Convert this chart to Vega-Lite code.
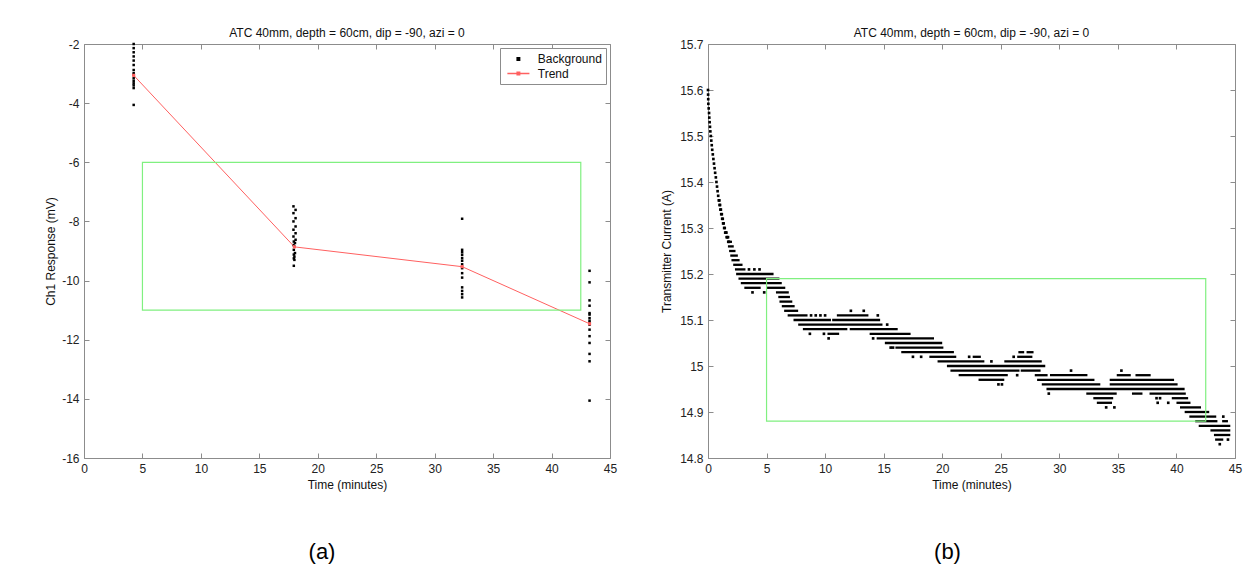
{
  "$schema": "https://vega.github.io/schema/vega-lite/v6.json",
  "background": "white",
  "padding": {"left": 44, "top": 26, "right": 18, "bottom": 4},
  "bounds": "flush",
  "spacing": 98,
  "resolve": {"scale": {"color": "independent", "shape": "independent"}, "legend": {"color": "independent", "shape": "independent"}},
  "config": {
    "font": "Liberation Sans",
    "view": {"stroke": "#8c8c8c", "strokeWidth": 1},
    "axis": {"domain": false, "grid": false, "ticks": true, "tickColor": "#8c8c8c", "tickSize": -5, "tickWidth": 1, "labelFont": "Liberation Sans", "labelFontSize": 12, "labelColor": "#222222", "labelPadding": 10, "labelFlush": false, "labelOverlap": false, "titleFont": "Liberation Sans", "titleFontSize": 12, "titleFontWeight": "normal", "titleColor": "#111111", "zindex": 1},
    "title": {"font": "Liberation Sans", "fontSize": 12, "fontWeight": "normal", "color": "#111111", "offset": -2, "anchor": "middle", "frame": "group"},
    "legend": {"labelFont": "Liberation Sans", "labelFontSize": 12, "labelColor": "#111111", "padding": 4, "symbolOffset": 7.4, "labelOffset": 12.4, "symbolSize": 150, "rowPadding": 1.5, "strokeColor": "#8c8c8c", "fillColor": "white", "cornerRadius": 0, "offset": 4}
  },
  "datasets": {
    "bg": [
      {"t": 4.25, "v": -2.0, "series": "Background"}, {"t": 4.25, "v": -2.14, "series": "Background"}, {"t": 4.25, "v": -2.28, "series": "Background"}, {"t": 4.25, "v": -2.42, "series": "Background"}, {"t": 4.25, "v": -2.56, "series": "Background"}, {"t": 4.25, "v": -2.71, "series": "Background"}, {"t": 4.25, "v": -2.88, "series": "Background"}, {"t": 4.25, "v": -2.99, "series": "Background"}, {"t": 4.25, "v": -3.04, "series": "Background"}, {"t": 4.25, "v": -3.16, "series": "Background"}, {"t": 4.25, "v": -3.25, "series": "Background"}, {"t": 4.25, "v": -3.33, "series": "Background"}, {"t": 4.25, "v": -3.4, "series": "Background"}, {"t": 4.25, "v": -3.49, "series": "Background"}, {"t": 4.25, "v": -4.06, "series": "Background"},
      {"t": 17.92, "v": -7.49, "series": "Background"}, {"t": 18.1, "v": -7.61, "series": "Background"}, {"t": 17.92, "v": -7.72, "series": "Background"}, {"t": 18.1, "v": -7.89, "series": "Background"}, {"t": 17.92, "v": -8.0, "series": "Background"}, {"t": 18.1, "v": -8.17, "series": "Background"}, {"t": 17.92, "v": -8.28, "series": "Background"}, {"t": 18.1, "v": -8.4, "series": "Background"}, {"t": 17.92, "v": -8.51, "series": "Background"}, {"t": 18.1, "v": -8.62, "series": "Background"}, {"t": 17.95, "v": -8.68, "series": "Background"}, {"t": 18.05, "v": -8.73, "series": "Background"}, {"t": 17.92, "v": -8.8, "series": "Background"}, {"t": 18.0, "v": -8.85, "series": "Background"}, {"t": 17.95, "v": -8.96, "series": "Background"}, {"t": 18.05, "v": -9.07, "series": "Background"}, {"t": 17.95, "v": -9.12, "series": "Background"}, {"t": 18.0, "v": -9.19, "series": "Background"}, {"t": 17.95, "v": -9.25, "series": "Background"}, {"t": 18.0, "v": -9.3, "series": "Background"}, {"t": 17.95, "v": -9.5, "series": "Background"},
      {"t": 32.35, "v": -7.91, "series": "Background"}, {"t": 32.35, "v": -8.96, "series": "Background"}, {"t": 32.35, "v": -9.04, "series": "Background"}, {"t": 32.35, "v": -9.13, "series": "Background"}, {"t": 32.35, "v": -9.24, "series": "Background"}, {"t": 32.35, "v": -9.33, "series": "Background"}, {"t": 32.35, "v": -9.45, "series": "Background"}, {"t": 32.35, "v": -9.58, "series": "Background"}, {"t": 32.35, "v": -9.75, "series": "Background"}, {"t": 32.35, "v": -9.9, "series": "Background"}, {"t": 32.35, "v": -10.23, "series": "Background"}, {"t": 32.35, "v": -10.35, "series": "Background"}, {"t": 32.35, "v": -10.46, "series": "Background"}, {"t": 32.35, "v": -10.57, "series": "Background"},
      {"t": 43.25, "v": -9.67, "series": "Background"}, {"t": 43.25, "v": -10.06, "series": "Background"}, {"t": 43.25, "v": -10.67, "series": "Background"}, {"t": 43.25, "v": -10.85, "series": "Background"}, {"t": 43.25, "v": -11.1, "series": "Background"}, {"t": 43.25, "v": -11.15, "series": "Background"}, {"t": 43.25, "v": -11.27, "series": "Background"}, {"t": 43.25, "v": -11.36, "series": "Background"}, {"t": 43.25, "v": -11.43, "series": "Background"}, {"t": 43.25, "v": -11.49, "series": "Background"}, {"t": 43.25, "v": -11.66, "series": "Background"}, {"t": 43.25, "v": -11.88, "series": "Background"}, {"t": 43.25, "v": -12.11, "series": "Background"}, {"t": 43.25, "v": -12.48, "series": "Background"}, {"t": 43.25, "v": -12.73, "series": "Background"}, {"t": 43.25, "v": -14.06, "series": "Background"}
    ],
    "trend": [
      {"t": 4.25, "v": -3.06, "series": "Trend"}, {"t": 18.0, "v": -8.86, "series": "Trend"}, {"t": 32.35, "v": -9.53, "series": "Trend"}, {"t": 43.25, "v": -11.46, "series": "Trend"}
    ],
    "runs": [
      {"v": 15.27, "t1": 1.85, "t2": 1.95}, {"v": 15.26, "t1": 1.8, "t2": 2.1}, {"v": 15.25, "t1": 1.9, "t2": 2.25}, {"v": 15.24, "t1": 2.0, "t2": 2.45}, {"v": 15.23, "t1": 2.1, "t2": 2.6}, {"v": 15.22, "t1": 2.25, "t2": 2.85}, {"v": 15.21, "t1": 2.4, "t2": 3.1},
      {"v": 15.2, "t1": 2.5, "t2": 5.5}, {"v": 15.19, "t1": 2.7, "t2": 6.0}, {"v": 15.18, "t1": 2.9, "t2": 6.2}, {"v": 15.17, "t1": 3.2, "t2": 4.4}, {"v": 15.17, "t1": 5.1, "t2": 6.5}, {"v": 15.16, "t1": 5.9, "t2": 6.8}, {"v": 15.15, "t1": 6.1, "t2": 6.9}, {"v": 15.14, "t1": 6.2, "t2": 7.1}, {"v": 15.13, "t1": 6.4, "t2": 7.3}, {"v": 15.12, "t1": 6.6, "t2": 7.6},
      {"v": 15.11, "t1": 6.9, "t2": 8.4}, {"v": 15.11, "t1": 11.1, "t2": 13.6}, {"v": 15.1, "t1": 7.4, "t2": 10.4}, {"v": 15.1, "t1": 10.7, "t2": 14.6}, {"v": 15.09, "t1": 7.8, "t2": 14.8}, {"v": 15.08, "t1": 8.2, "t2": 11.8}, {"v": 15.08, "t1": 12.2, "t2": 16.1}, {"v": 15.07, "t1": 10.3, "t2": 11.1}, {"v": 15.07, "t1": 13.9, "t2": 17.2},
      {"v": 15.06, "t1": 14.5, "t2": 19.2}, {"v": 15.05, "t1": 15.2, "t2": 19.9}, {"v": 15.04, "t1": 16.1, "t2": 20.0}, {"v": 15.03, "t1": 16.6, "t2": 20.9}, {"v": 15.03, "t1": 26.6, "t2": 26.9}, {"v": 15.03, "t1": 27.3, "t2": 27.7},
      {"v": 15.02, "t1": 19.0, "t2": 21.1}, {"v": 15.02, "t1": 22.7, "t2": 23.2}, {"v": 15.02, "t1": 26.5, "t2": 27.6}, {"v": 15.01, "t1": 19.7, "t2": 23.5}, {"v": 15.01, "t1": 25.4, "t2": 28.4}, {"v": 15.0, "t1": 20.5, "t2": 28.7},
      {"v": 14.99, "t1": 20.8, "t2": 26.5}, {"v": 14.99, "t1": 26.8, "t2": 28.3}, {"v": 14.98, "t1": 21.5, "t2": 25.5}, {"v": 14.98, "t1": 28.0, "t2": 28.9}, {"v": 14.98, "t1": 29.3, "t2": 32.3}, {"v": 14.98, "t1": 35.0, "t2": 36.0}, {"v": 14.98, "t1": 36.6, "t2": 37.7},
      {"v": 14.97, "t1": 23.2, "t2": 25.2}, {"v": 14.97, "t1": 28.2, "t2": 32.9}, {"v": 14.97, "t1": 34.4, "t2": 39.7}, {"v": 14.96, "t1": 28.6, "t2": 33.4}, {"v": 14.96, "t1": 34.4, "t2": 40.0}, {"v": 14.95, "t1": 29.0, "t2": 40.6},
      {"v": 14.94, "t1": 32.4, "t2": 34.8}, {"v": 14.94, "t1": 36.3, "t2": 37.0}, {"v": 14.94, "t1": 37.8, "t2": 40.7}, {"v": 14.93, "t1": 33.0, "t2": 34.5}, {"v": 14.93, "t1": 39.7, "t2": 40.9}, {"v": 14.92, "t1": 33.3, "t2": 34.4}, {"v": 14.92, "t1": 40.1, "t2": 41.1},
      {"v": 14.91, "t1": 40.4, "t2": 42.0}, {"v": 14.9, "t1": 40.8, "t2": 42.7}, {"v": 14.89, "t1": 41.2, "t2": 43.3}, {"v": 14.88, "t1": 41.7, "t2": 43.4}, {"v": 14.88, "t1": 44.0, "t2": 44.3}, {"v": 14.87, "t1": 42.0, "t2": 44.5}, {"v": 14.86, "t1": 43.0, "t2": 44.5}, {"v": 14.85, "t1": 43.3, "t2": 44.5}, {"v": 14.84, "t1": 43.4, "t2": 43.9}
    ],
    "dots": [
      {"t": 0.0, "v": 15.6}, {"t": 0.01, "v": 15.59}, {"t": 0.02, "v": 15.58}, {"t": 0.03, "v": 15.57}, {"t": 0.06, "v": 15.56}, {"t": 0.09, "v": 15.55}, {"t": 0.11, "v": 15.54}, {"t": 0.14, "v": 15.53}, {"t": 0.17, "v": 15.52}, {"t": 0.2, "v": 15.51}, {"t": 0.24, "v": 15.5}, {"t": 0.28, "v": 15.49}, {"t": 0.32, "v": 15.48}, {"t": 0.36, "v": 15.47}, {"t": 0.41, "v": 15.46}, {"t": 0.46, "v": 15.45}, {"t": 0.51, "v": 15.44}, {"t": 0.56, "v": 15.43}, {"t": 0.61, "v": 15.42}, {"t": 0.67, "v": 15.41}, {"t": 0.72, "v": 15.4}, {"t": 0.77, "v": 15.39}, {"t": 0.82, "v": 15.38}, {"t": 0.87, "v": 15.37}, {"t": 0.92, "v": 15.36}, {"t": 0.97, "v": 15.36}, {"t": 0.99, "v": 15.35}, {"t": 1.03, "v": 15.35}, {"t": 1.06, "v": 15.34}, {"t": 1.1, "v": 15.34}, {"t": 1.13, "v": 15.33}, {"t": 1.18, "v": 15.33}, {"t": 1.21, "v": 15.32}, {"t": 1.26, "v": 15.32}, {"t": 1.29, "v": 15.31}, {"t": 1.34, "v": 15.31}, {"t": 1.38, "v": 15.3}, {"t": 1.43, "v": 15.3}, {"t": 1.47, "v": 15.29}, {"t": 1.52, "v": 15.29}, {"t": 1.57, "v": 15.29}, {"t": 1.59, "v": 15.28}, {"t": 1.65, "v": 15.28}, {"t": 1.71, "v": 15.28}, {"t": 1.73, "v": 15.27}, {"t": 1.79, "v": 15.27},
      {"t": 3.5, "v": 15.21}, {"t": 3.96, "v": 15.21}, {"t": 4.4, "v": 15.21}, {"t": 3.8, "v": 15.16}, {"t": 4.8, "v": 15.16}, {"t": 12.2, "v": 15.12}, {"t": 13.3, "v": 15.12}, {"t": 8.8, "v": 15.11}, {"t": 9.2, "v": 15.11}, {"t": 9.6, "v": 15.11}, {"t": 10.0, "v": 15.11}, {"t": 14.5, "v": 15.11}, {"t": 15.3, "v": 15.09}, {"t": 8.7, "v": 15.07}, {"t": 9.9, "v": 15.07}, {"t": 10.3, "v": 15.06}, {"t": 14.1, "v": 15.06}, {"t": 15.6, "v": 15.04}, {"t": 15.8, "v": 15.04}, {"t": 17.5, "v": 15.02}, {"t": 18.2, "v": 15.02}, {"t": 22.3, "v": 15.02}, {"t": 26.1, "v": 15.02}, {"t": 24.2, "v": 15.01}, {"t": 26.4, "v": 14.98}, {"t": 31.0, "v": 14.99}, {"t": 35.3, "v": 14.99}, {"t": 24.8, "v": 14.96}, {"t": 25.1, "v": 14.96}, {"t": 29.1, "v": 14.94}, {"t": 38.3, "v": 14.93}, {"t": 38.6, "v": 14.93}, {"t": 38.4, "v": 14.92}, {"t": 39.3, "v": 14.92}, {"t": 34.0, "v": 14.91}, {"t": 34.7, "v": 14.91}, {"t": 44.0, "v": 14.89}, {"t": 44.4, "v": 14.84}, {"t": 43.7, "v": 14.83}
    ]
  },
  "hconcat": [
    {
      "width": 526,
      "height": 414,
      "title": {"text": "ATC 40mm, depth = 60cm, dip = -90, azi = 0"},
      "resolve": {"axis": {"x": "independent", "y": "independent"}},
      "layer": [
        {
          "data": {"name": "bg"},
          "mark": {"type": "point", "filled": true, "opacity": 1, "size": 156},
          "encoding": {
            "x": {"field": "t", "type": "quantitative", "scale": {"domain": [0, 45], "nice": false, "zero": false},
              "axis": {"orient": "bottom", "values": [0, 5, 10, 15, 20, 25, 30, 35, 40, 45], "labelExpr": "'' + datum.value", "title": "Time (minutes)", "titleX": 263, "titleY": 26.6, "titleBaseline": "middle", "titleAlign": "center", "titleAngle": 0}},
            "y": {"field": "v", "type": "quantitative", "scale": {"domain": [-16, -2], "nice": false, "zero": false},
              "axis": {"orient": "left", "values": [-16, -14, -12, -10, -8, -6, -4, -2], "labelExpr": "'' + datum.value", "title": "Ch1 Response (mV)", "titleX": -33.5, "titleY": 207, "titleAngle": 270, "titleBaseline": "middle", "titleAlign": "center"}},
            "color": {"field": "series", "type": "nominal", "scale": {"domain": ["Background", "Trend"], "range": ["#000000", "#ff6060"]},
              "legend": {"title": null, "orient": "top-right", "offset": 4, "encode": {"symbols": {"update": {
                "fill": [{"test": "datum.value === 'Trend'", "value": "#ff6060"}, {"value": "#000000"}],
                "stroke": [{"test": "datum.value === 'Trend'", "value": "#ff6060"}, {"value": "#000000"}],
                "strokeWidth": [{"test": "datum.value === 'Trend'", "value": 1}, {"value": 0}],
                "opacity": {"value": 1}}}}}},
            "shape": {"field": "series", "type": "nominal", "scale": {"domain": ["Background", "Trend"], "range": ["M-0.2,-0.2H0.2V0.2H-0.2Z", "M-1.8,0H1.8M-0.2,-0.2H0.2V0.2H-0.2Z"]},
              "legend": {"title": null, "orient": "top-right", "offset": 4, "encode": {"symbols": {"update": {
                "fill": [{"test": "datum.value === 'Trend'", "value": "#ff6060"}, {"value": "#000000"}],
                "stroke": [{"test": "datum.value === 'Trend'", "value": "#ff6060"}, {"value": "#000000"}],
                "strokeWidth": [{"test": "datum.value === 'Trend'", "value": 1}, {"value": 0}],
                "opacity": {"value": 1}}}}}}
          }
        },
        {
          "data": {"name": "trend"},
          "mark": {"type": "line", "strokeWidth": 1, "point": {"filled": true, "size": 10, "shape": "square", "opacity": 1}},
          "encoding": {
            "x": {"field": "t", "type": "quantitative", "scale": {"domain": [0, 45], "nice": false, "zero": false},
              "axis": {"orient": "top", "values": [0, 5, 10, 15, 20, 25, 30, 35, 40, 45], "labels": false, "title": null}},
            "y": {"field": "v", "type": "quantitative", "scale": {"domain": [-16, -2], "nice": false, "zero": false},
              "axis": {"orient": "right", "values": [-16, -14, -12, -10, -8, -6, -4, -2], "labels": false, "title": null}},
            "color": {"field": "series", "type": "nominal", "scale": {"domain": ["Background", "Trend"], "range": ["#000000", "#ff6060"]}, "legend": {"title": null, "orient": "top-right", "offset": 4}}
          }
        },
        {
          "data": {"values": [{"x1": 5, "x2": 42.5, "y1": -11, "y2": -6}]},
          "mark": {"type": "rect", "fillOpacity": 0, "stroke": "#80f080", "strokeWidth": 1.2},
          "encoding": {
            "x": {"field": "x1", "type": "quantitative", "scale": {"domain": [0, 45], "nice": false, "zero": false},
              "axis": {"orient": "bottom", "labels": false, "ticks": false, "domain": false, "title": "(a)", "titleFontSize": 22, "titleColor": "#000000", "titleX": 237.5, "titleY": 93, "titleBaseline": "middle", "titleAlign": "center", "titleAngle": 0}},
            "x2": {"field": "x2"},
            "y": {"field": "y1", "type": "quantitative", "scale": {"domain": [-16, -2], "nice": false, "zero": false}, "axis": null},
            "y2": {"field": "y2"}
          }
        }
      ]
    },
    {
      "width": 527,
      "height": 414,
      "title": {"text": "ATC 40mm, depth = 60cm, dip = -90, azi = 0"},
      "resolve": {"axis": {"x": "independent", "y": "independent"}},
      "layer": [
        {
          "data": {"name": "runs"},
          "mark": {"type": "rule", "strokeWidth": 2.3, "color": "#000000", "strokeCap": "square"},
          "encoding": {
            "x": {"field": "t1", "type": "quantitative", "scale": {"domain": [0, 45], "nice": false, "zero": false},
              "axis": {"orient": "bottom", "values": [0, 5, 10, 15, 20, 25, 30, 35, 40, 45], "labelExpr": "'' + datum.value", "title": "Time (minutes)", "titleX": 263.5, "titleY": 26.6, "titleBaseline": "middle", "titleAlign": "center", "titleAngle": 0}},
            "x2": {"field": "t2"},
            "y": {"field": "v", "type": "quantitative", "scale": {"domain": [14.8, 15.7], "nice": false, "zero": false},
              "axis": {"orient": "left", "values": [14.8, 14.9, 15, 15.1, 15.2, 15.3, 15.4, 15.5, 15.6, 15.7], "labelExpr": "'' + datum.value", "title": "Transmitter Current (A)", "titleX": -41.5, "titleY": 207, "titleAngle": 270, "titleBaseline": "middle", "titleAlign": "center"}}
          }
        },
        {
          "data": {"name": "dots"},
          "mark": {"type": "point", "shape": "square", "filled": true, "opacity": 1, "size": 7, "color": "#000000"},
          "encoding": {
            "x": {"field": "t", "type": "quantitative", "scale": {"domain": [0, 45], "nice": false, "zero": false},
              "axis": {"orient": "top", "values": [0, 5, 10, 15, 20, 25, 30, 35, 40, 45], "labels": false, "title": null}},
            "y": {"field": "v", "type": "quantitative", "scale": {"domain": [14.8, 15.7], "nice": false, "zero": false},
              "axis": {"orient": "right", "values": [14.8, 14.9, 15, 15.1, 15.2, 15.3, 15.4, 15.5, 15.6, 15.7], "labels": false, "title": null}}
          }
        },
        {
          "data": {"values": [{"x1": 5, "x2": 42.5, "y1": 14.88, "y2": 15.19}]},
          "mark": {"type": "rect", "fillOpacity": 0, "stroke": "#80f080", "strokeWidth": 1.2},
          "encoding": {
            "x": {"field": "x1", "type": "quantitative", "scale": {"domain": [0, 45], "nice": false, "zero": false},
              "axis": {"orient": "bottom", "labels": false, "ticks": false, "domain": false, "title": "(b)", "titleFontSize": 22, "titleColor": "#000000", "titleX": 239, "titleY": 93, "titleBaseline": "middle", "titleAlign": "center", "titleAngle": 0}},
            "x2": {"field": "x2"},
            "y": {"field": "y1", "type": "quantitative", "scale": {"domain": [14.8, 15.7], "nice": false, "zero": false}, "axis": null},
            "y2": {"field": "y2"}
          }
        }
      ]
    }
  ]
}
